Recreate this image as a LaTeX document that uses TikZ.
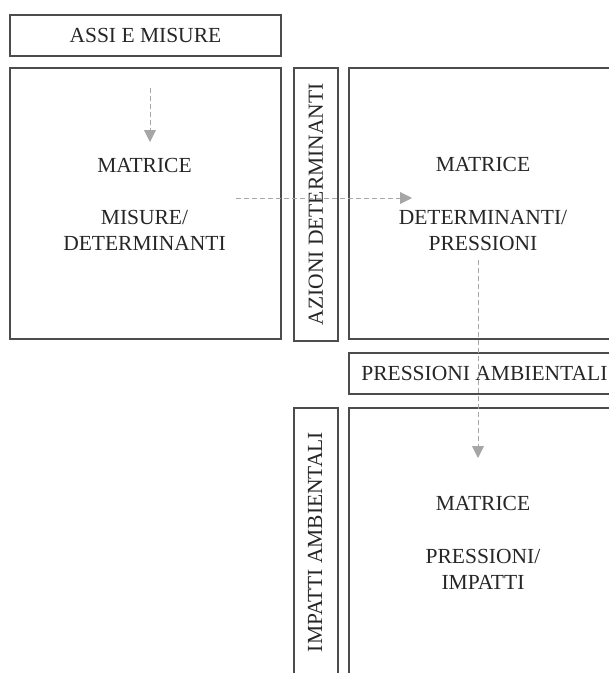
\documentclass[tikz,border=0pt]{standalone}
\usepackage{fontspec}
\setmainfont{Liberation Serif}
\usetikzlibrary{arrows.meta}
\begin{document}
\begin{tikzpicture}[x=1pt,y=-1pt,
  box/.style={draw=black!70, line width=1.8pt, anchor=north west, inner sep=0pt},
  lbl/.style={font=\fontsize{21.5}{26}\selectfont, text=black!85, align=center, inner sep=0pt},
  flow/.style={draw=black!35, line width=0.9pt, dash pattern=on 5pt off 3pt,
    -{Triangle[length=12pt,width=12pt,fill=black!35]}}]
\useasboundingbox (0,0) rectangle (609,673);
\clip (0,0) rectangle (609,673);
% boxes
\node[box, minimum width=271pt, minimum height=41pt] (assi) at (9,14) {};
\node[box, minimum width=271pt, minimum height=271pt] (m1) at (9,67) {};
\node[box, minimum width=44pt, minimum height=273pt] (azioni) at (293,67) {};
\node[box, minimum width=271pt, minimum height=271pt] (m2) at (348,67) {};
\node[box, minimum width=271pt, minimum height=41pt] (press) at (348,352) {};
\node[box, minimum width=44pt, minimum height=270pt] (impatti) at (293,407) {};
\node[box, minimum width=271pt, minimum height=270pt] (m3) at (348,407) {};
% labels
\node[lbl] (tassi) at (assi.center) {ASSI E MISURE};
\node[lbl, rotate=90] (tazioni) at (azioni.center) {AZIONI DETERMINANTI};
\node[lbl] (tpress) at (press.center) {PRESSIONI AMBIENTALI};
\node[lbl, rotate=90] (timpatti) at (315,542) {IMPATTI AMBIENTALI};
\node[lbl, anchor=base] (t1) at (144.5,250.5) {MATRICE\\[26pt]MISURE/\\DETERMINANTI};
\node[lbl, anchor=base] (t2) at (483,250.5) {MATRICE\\[27pt]DETERMINANTI/\\PRESSIONI};
\node[lbl, anchor=base] (t3) at (483,589.5) {MATRICE\\[27pt]PRESSIONI/\\IMPATTI};
% connectors
\coordinate (a1s) at (150,88);
\coordinate (a1e) at (150,142);
\coordinate (a2s) at (236,198);
\coordinate (a2e) at (412,198);
\coordinate (a3s) at (478,260);
\coordinate (a3e) at (478,458);
\draw[flow] (a1s) -- (a1e);
\draw[flow] (a2s) -- (a2e);
\draw[flow] (a3s) -- (a3e);
\end{tikzpicture}
\end{document}
